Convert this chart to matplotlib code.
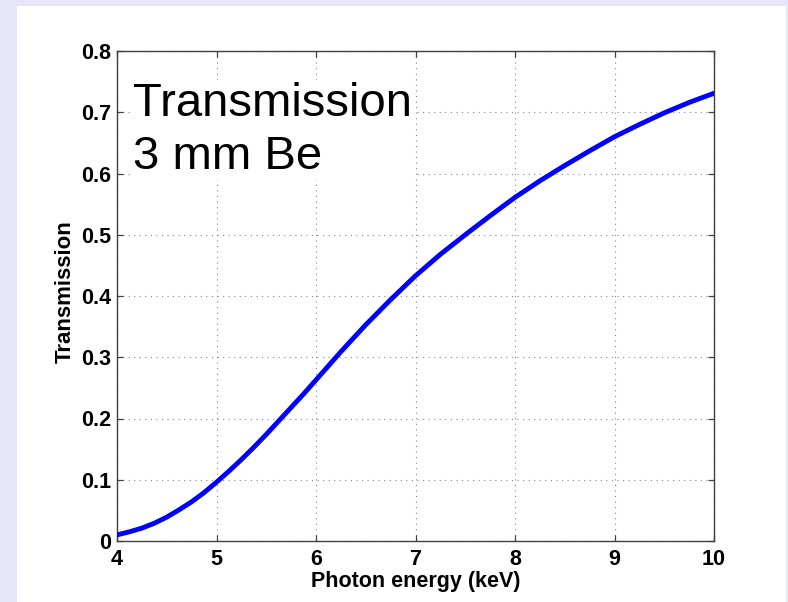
import matplotlib.pyplot as plt
from matplotlib.patches import Rectangle

plt.rcParams['font.family'] = ['Liberation Sans', 'DejaVu Sans']

# transmission of a 3 mm beryllium window vs photon energy
energy_kev = [4.0, 4.125, 4.25, 4.375, 4.5, 4.625, 4.75, 4.875, 5.0, 5.125, 5.25,
              5.375, 5.5, 5.625, 5.75, 5.875, 6.0, 6.125, 6.25, 6.375, 6.5, 6.75,
              7.0, 7.25, 7.5, 7.75, 8.0, 8.25, 8.5, 8.75, 9.0, 9.25, 9.5, 9.75, 10.0]
transmission = [0.010, 0.015, 0.021, 0.029, 0.039, 0.051, 0.064, 0.079, 0.096,
                0.114, 0.133, 0.153, 0.174, 0.196, 0.218, 0.240, 0.263, 0.286,
                0.309, 0.331, 0.353, 0.394, 0.433, 0.468, 0.500, 0.531, 0.561,
                0.588, 0.613, 0.637, 0.660, 0.680, 0.699, 0.716, 0.731]

x_ticks = [4, 5, 6, 7, 8, 9, 10]
y_ticks = [0, 0.1, 0.2, 0.3, 0.4, 0.5, 0.6, 0.7, 0.8]
y_tick_labels = ['0', '0.1', '0.2', '0.3', '0.4', '0.5', '0.6', '0.7', '0.8']

fig = plt.figure(figsize=(7.88, 6.02), dpi=100)
fig.patch.set_facecolor('#e6e6fa')
# white slide panel behind the plot
fig.patches.append(Rectangle((17 / 788, 0), (786 - 17) / 788, 1 - 6 / 602,
                             transform=fig.transFigure, facecolor='white',
                             edgecolor='none', zorder=-10))

ax = fig.add_axes([117 / 788, 1 - 541 / 602, 597 / 788, 490 / 602])
ax.set_facecolor('white')

ax.plot(energy_kev, transmission, color='#0000ff', lw=3.5,
        solid_joinstyle='round', zorder=3)

ax.set_xlim(4, 10)
ax.set_ylim(0, 0.8)
ax.set_xticks(x_ticks)
ax.set_xticklabels([str(t) for t in x_ticks])
ax.set_yticks(y_ticks)
ax.set_yticklabels(y_tick_labels)

ax.grid(True, color='#888888', linestyle=(0, (1, 4)), lw=0.8)
ax.set_axisbelow(True)

ax.tick_params(direction='in', length=4.5, width=0.9, color='#404040',
               top=True, right=True, labelsize=15.5)
ax.tick_params(axis='x', pad=6)
ax.tick_params(axis='y', pad=4)
for lab in ax.get_xticklabels() + ax.get_yticklabels():
    lab.set_fontweight('bold')
for sp in ax.spines.values():
    sp.set_color('#404040')
    sp.set_linewidth(1.0)

ax.set_xlabel('Photon energy (keV)', fontsize=15.5, fontweight='bold')
ax.set_ylabel('Transmission', fontsize=16, fontweight='bold')
ax.xaxis.set_label_coords(0.5, -0.062)
ax.yaxis.set_label_coords(-0.069, 0.508)

ax.text(0.027, 0.937, 'Transmission\n3 mm Be', transform=ax.transAxes,
        fontsize=34, ha='left', va='top', linespacing=1.26, zorder=4,
        bbox=dict(facecolor='white', edgecolor='none', pad=1))

fig.savefig('out.png', dpi=100, facecolor=fig.get_facecolor())
